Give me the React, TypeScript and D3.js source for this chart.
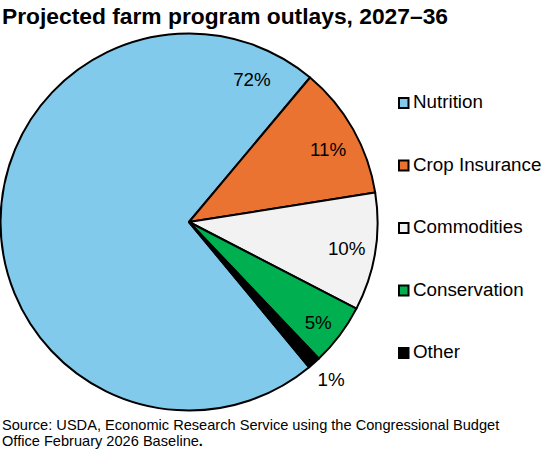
import React from 'react';
import * as d3 from 'd3';

const categories = ['Nutrition', 'Crop Insurance', 'Commodities', 'Conservation', 'Other'];
const shares = [72.1, 11.4, 10.1, 5.3, 1.1];
const shareLabels = ['72%', '11%', '10%', '5%', '1%'];
const colors = ['#82caec', '#eb7331', '#f2f2f2', '#00b050', '#000000'];
const sourceLines = [
  'Source: USDA, Economic Research Service using the Congressional Budget',
  'Office February 2026 Baseline',
];

const width = 551;
const height = 451;
const font = '"Liberation Sans", Arial, sans-serif';
const cx = 189;
const cy = 222;
const radius = 188.5;
// hand placed label spots around the pie, clockwise from the top
const labelAngle = [23.8, 62.3, 99.7, 128, 137.9];
const labelRadius = [156, 157, 160, 164, 212];

const App: React.FC = () => {
  const pie = d3.pie<number>().sort(null).startAngle((140.4 * Math.PI) / 180).endAngle((500.4 * Math.PI) / 180);
  const arc = d3.arc<d3.PieArcDatum<number>>().innerRadius(0).outerRadius(radius);
  const arcs = pie(shares);
  const legendY = d3.scalePoint<string>().domain(categories).range([102.5, 352.5]);

  return (
    <svg width={width} height={height} style={{ position: 'absolute', left: 0, top: 0 }} fontFamily={font}>
      <text x={2} y={24} fontSize={22.8} fontWeight="bold" fill="#000">Projected farm program outlays, 2027–36</text>
      <g transform={`translate(${cx},${cy})`}>
        {arcs.map((d, i) => (
          <path key={categories[i]} d={arc(d) as string} fill={colors[i]} stroke="#000" strokeWidth={2} strokeLinejoin="round" />
        ))}
        {shareLabels.map((l, i) => {
          const a = (labelAngle[i] * Math.PI) / 180;
          return (
            <text key={l} x={Math.sin(a) * labelRadius[i]} y={-Math.cos(a) * labelRadius[i]} textAnchor="middle" dominantBaseline="central" fontSize={18.8} fill="#000">
              {l}
            </text>
          );
        })}
      </g>
      {categories.map((c, i) => {
        const y = legendY(c) as number;
        return (
          <g key={c}>
            <rect x={399} y={y - 4.5} width={9.5} height={10} fill={colors[i]} stroke="#000" strokeWidth={2} />
            <text x={413} y={y + 5.5} fontSize={18.8} fill="#000">{c}</text>
          </g>
        );
      })}
      {sourceLines.map((s, i) => (
        <text key={s} x={2} y={430 + i * 15.5} fontSize={14.6} fill="#000">
          {s}
          {i === 1 && <tspan fontWeight="bold">.</tspan>}
        </text>
      ))}
    </svg>
  );
};

export default App;
